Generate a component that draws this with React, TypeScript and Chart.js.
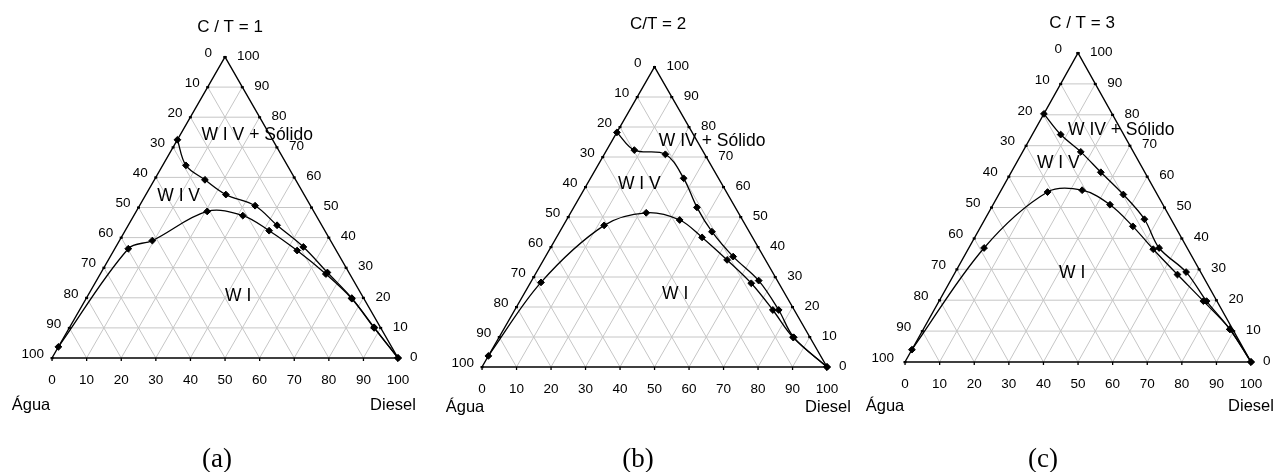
import React, { useEffect, useRef } from "react";
import { Chart, registerables } from "chart.js";

Chart.register(...registerables);

// Ternary compositions: Diesel % and C/T % (Água = 100 - Diesel - C/T)
const TICKS = [0, 10, 20, 30, 40, 50, 60, 70, 80, 90, 100];

const A_UPPER_DIESEL = [0, 6.7, 14.6, 23.1, 33.4, 43.0, 54.2, 65.4, 76.7, 88.0, 100];
const A_UPPER_CT = [72.5, 64.0, 59.2, 54.3, 50.6, 44.1, 36.9, 28.4, 19.9, 10.2, 0];
const A_LOWER_DIESEL = [0, 3.9, 9.5, 20.5, 31.5, 41.6, 53.0, 65.2, 76.8, 88.1, 100];
const A_LOWER_CT = [3.7, 36.3, 39.0, 48.7, 47.3, 42.3, 35.7, 27.9, 19.7, 10.0, 0];

const B_UPPER_DIESEL = [0, 8.0, 17.7, 27.0, 35.7, 44.1, 54.4, 65.8, 76.5, 85.4, 100];
const B_UPPER_CT = [78.2, 72.3, 70.9, 62.9, 53.2, 45.1, 36.8, 28.8, 19.0, 9.9, 0];
const B_LOWER_DIESEL = [0, 3.0, 11.8, 21.9, 32.8, 42.2, 53.2, 64.1, 74.8, 85.2, 100];
const B_LOWER_CT = [3.7, 28.2, 47.2, 51.4, 49.0, 43.2, 35.7, 27.9, 19.0, 9.9, 0];

const C_UPPER_DIESEL = [0, 8.2, 16.8, 25.9, 36.0, 46.1, 55.0, 66.7, 77.3, 88.6, 100];
const C_UPPER_CT = [80.3, 73.6, 68.0, 61.4, 54.2, 46.2, 36.9, 29.1, 19.7, 10.6, 0];
const C_LOWER_DIESEL = [0, 4.4, 13.7, 23.4, 33.8, 43.9, 53.5, 64.6, 76.4, 88.6, 100];
const C_LOWER_CT = [4.0, 36.9, 55.0, 55.6, 50.9, 43.9, 36.5, 28.3, 19.7, 10.6, 0];

const TITLES = ["C / T = 1", "C/T = 2", "C / T = 3"];
const CAPTIONS = ["(a)", "(b)", "(c)"];
const REGION_TEXT_A = ["W I V + Sólido", "W I V", "W I"];
const REGION_TEXT_B = ["W IV + Sólido", "W I V", "W I"];
const REGION_TEXT_C = ["W IV + Sólido", "W I V", "W I"];
const CORNER_LEFT = "Água";
const CORNER_RIGHT = "Diesel";

const SANS = '"Liberation Sans", Arial, Helvetica, sans-serif';
const SERIF = '"Liberation Serif", "Times New Roman", serif';

type Panel = {
  title: string;
  caption: string;
  regions: string[];
  regionPos: { x: number; y: number }[];
  series: { diesel: number[]; ct: number[] }[];
  canvasLeft: number;
  canvasWidth: number;
  pad: { left: number; right: number; top: number; bottom: number };
  titlePos: { x: number; y: number };
  captionPos: { x: number; y: number };
  aguaPos: { x: number; y: number };
  dieselPos: { x: number; y: number };
  leftGap: number;
  bottomGap: number;
};

const PANELS: Panel[] = [
  {
    title: TITLES[0],
    caption: CAPTIONS[0],
    regions: REGION_TEXT_A,
    regionPos: [
      { x: 59.3, y: 73.9 },
      { x: 36.6, y: 53.7 },
      { x: 53.8, y: 20.5 },
    ],
    series: [
      { diesel: A_UPPER_DIESEL, ct: A_UPPER_CT },
      { diesel: A_LOWER_DIESEL, ct: A_LOWER_CT },
    ],
    canvasLeft: 0,
    canvasWidth: 430,
    pad: { left: 52, right: 32, top: 57, bottom: 114 },
    titlePos: { x: 230, y: 27 },
    captionPos: { x: 217, y: 460 },
    aguaPos: { x: 31, y: 405 },
    dieselPos: { x: 393, y: 405 },
    leftGap: 8,
    bottomGap: 22,
  },
  {
    title: TITLES[1],
    caption: CAPTIONS[1],
    regions: REGION_TEXT_B,
    regionPos: [
      { x: 66.7, y: 75.4 },
      { x: 45.6, y: 60.9 },
      { x: 56.0, y: 24.2 },
    ],
    series: [
      { diesel: B_UPPER_DIESEL, ct: B_UPPER_CT },
      { diesel: B_LOWER_DIESEL, ct: B_LOWER_CT },
    ],
    canvasLeft: 430,
    canvasWidth: 430,
    pad: { left: 52, right: 33, top: 67, bottom: 105 },
    titlePos: { x: 228, y: 24 },
    captionPos: { x: 208, y: 460 },
    aguaPos: { x: 35, y: 407 },
    dieselPos: { x: 398, y: 407 },
    leftGap: 8,
    bottomGap: 22,
  },
  {
    title: TITLES[2],
    caption: CAPTIONS[2],
    regions: REGION_TEXT_C,
    regionPos: [
      { x: 62.5, y: 75.0 },
      { x: 44.3, y: 64.2 },
      { x: 48.3, y: 28.8 },
    ],
    series: [
      { diesel: C_UPPER_DIESEL, ct: C_UPPER_CT },
      { diesel: C_LOWER_DIESEL, ct: C_LOWER_CT },
    ],
    canvasLeft: 860,
    canvasWidth: 417,
    pad: { left: 45, right: 26, top: 53, bottom: 110 },
    titlePos: { x: 222, y: 23 },
    captionPos: { x: 183, y: 460 },
    aguaPos: { x: 25, y: 406 },
    dieselPos: { x: 391, y: 406 },
    leftGap: 11,
    bottomGap: 22,
  },
];

// ternary (diesel, ct) -> cartesian chart values
const tx = (d: number, s: number) => d + s / 2;

function makePlugin(p: Panel) {
  return {
    id: "ternary",
    beforeDatasetsDraw(chart: any) {
      const { ctx } = chart;
      const X = chart.scales.x;
      const Y = chart.scales.y;
      const P = (d: number, s: number) => [X.getPixelForValue(tx(d, s)), Y.getPixelForValue(s)];
      ctx.save();
      // grid
      ctx.strokeStyle = "#c6c6c6";
      ctx.lineWidth = 1;
      ctx.beginPath();
      for (const v of TICKS) {
        if (v === 0 || v === 100) continue;
        let a = P(0, v), b = P(100 - v, v);
        ctx.moveTo(a[0], a[1]); ctx.lineTo(b[0], b[1]);
        a = P(v, 0); b = P(v, 100 - v);
        ctx.moveTo(a[0], a[1]); ctx.lineTo(b[0], b[1]);
        a = P(100 - v, 0); b = P(0, 100 - v);
        ctx.moveTo(a[0], a[1]); ctx.lineTo(b[0], b[1]);
      }
      ctx.stroke();
      // border
      const L = P(0, 0), R = P(100, 0), T = P(0, 100);
      ctx.strokeStyle = "#000";
      ctx.lineWidth = 1.4;
      ctx.beginPath();
      ctx.moveTo(L[0], L[1]);
      ctx.lineTo(R[0], R[1]);
      ctx.lineTo(T[0], T[1]);
      ctx.closePath();
      ctx.stroke();
      // tick marks
      ctx.fillStyle = "#000";
      for (const v of TICKS) {
        const le = P(0, 100 - v);
        const re = P(100 - v, v);
        ctx.fillRect(le[0] - 1.5, le[1] - 1, 3, 2.2);
        ctx.fillRect(re[0] - 1.5, re[1] - 1, 3, 2.2);
        const be = P(v, 0);
        ctx.fillRect(be[0] - 0.6, be[1], 1.3, 3);
      }
      ctx.restore();
    },
    afterDatasetsDraw(chart: any) {
      const { ctx } = chart;
      const X = chart.scales.x;
      const Y = chart.scales.y;
      const P = (d: number, s: number) => [X.getPixelForValue(tx(d, s)), Y.getPixelForValue(s)];
      ctx.save();
      ctx.fillStyle = "#000";
      ctx.textBaseline = "middle";
      ctx.font = `13.5px ${SANS}`;
      for (const v of TICKS) {
        const le = P(0, 100 - v);
        ctx.textAlign = "right";
        ctx.fillText(String(v), le[0] - p.leftGap - (v === 0 ? 5 : 0), le[1] - 4);
        const re = P(100 - v, v);
        ctx.textAlign = "left";
        ctx.fillText(String(v), re[0] + 12, re[1] - 1);
        const be = P(v, 0);
        ctx.textAlign = "center";
        ctx.fillText(String(v), be[0], be[1] + p.bottomGap);
      }
      ctx.font = `17.5px ${SANS}`;
      ctx.textAlign = "center";
      p.regions.forEach((t, i) => {
        const pos = p.regionPos[i];
        ctx.fillText(t, X.getPixelForValue(pos.x), Y.getPixelForValue(pos.y));
      });
      ctx.font = `17px ${SANS}`;
      ctx.fillText(p.title, p.titlePos.x, p.titlePos.y);
      ctx.font = `16.5px ${SANS}`;
      ctx.fillText(CORNER_LEFT, p.aguaPos.x, p.aguaPos.y);
      ctx.fillText(CORNER_RIGHT, p.dieselPos.x, p.dieselPos.y);
      ctx.font = `27px ${SERIF}`;
      ctx.fillText(p.caption, p.captionPos.x, p.captionPos.y);
      ctx.restore();
    },
  };
}

function TernaryPanel({ panel }: { panel: Panel }) {
  const ref = useRef<HTMLCanvasElement | null>(null);
  useEffect(() => {
    if (!ref.current) return;
    const datasets = panel.series.map((s) => ({
      data: s.diesel.map((d, i) => ({ x: tx(d, s.ct[i]), y: s.ct[i] })),
      showLine: true,
      borderColor: "#000",
      backgroundColor: "#000",
      borderWidth: 1.3,
      pointStyle: "rectRot",
      pointRadius: 3.4,
      pointBorderWidth: 1,
      pointBorderColor: "#000",
      pointBackgroundColor: "#000",
      tension: 0.35,
      clip: false,
    }));
    const chart = new Chart(ref.current, {
      type: "scatter",
      data: { datasets } as any,
      options: {
        responsive: false,
        animation: false,
        devicePixelRatio: 1,
        layout: { padding: panel.pad },
        elements: { line: { capBezierPoints: false } },
        plugins: { legend: { display: false }, tooltip: { enabled: false }, title: { display: false } },
        scales: {
          x: { type: "linear", min: 0, max: 100, display: false },
          y: { type: "linear", min: 0, max: 100, display: false },
        },
      } as any,
      plugins: [makePlugin(panel)],
    });
    return () => chart.destroy();
  }, [panel]);
  return (
    <canvas
      ref={ref}
      width={panel.canvasWidth}
      height={472}
      style={{ position: "absolute", left: panel.canvasLeft, top: 0, width: panel.canvasWidth, height: 472 }}
    />
  );
}

export default function App() {
  return (
    <div style={{ position: "absolute", left: 0, top: 0, width: 1277, height: 472, background: "#fff" }}>
      {PANELS.map((p, i) => (
        <TernaryPanel key={i} panel={p} />
      ))}
    </div>
  );
}
